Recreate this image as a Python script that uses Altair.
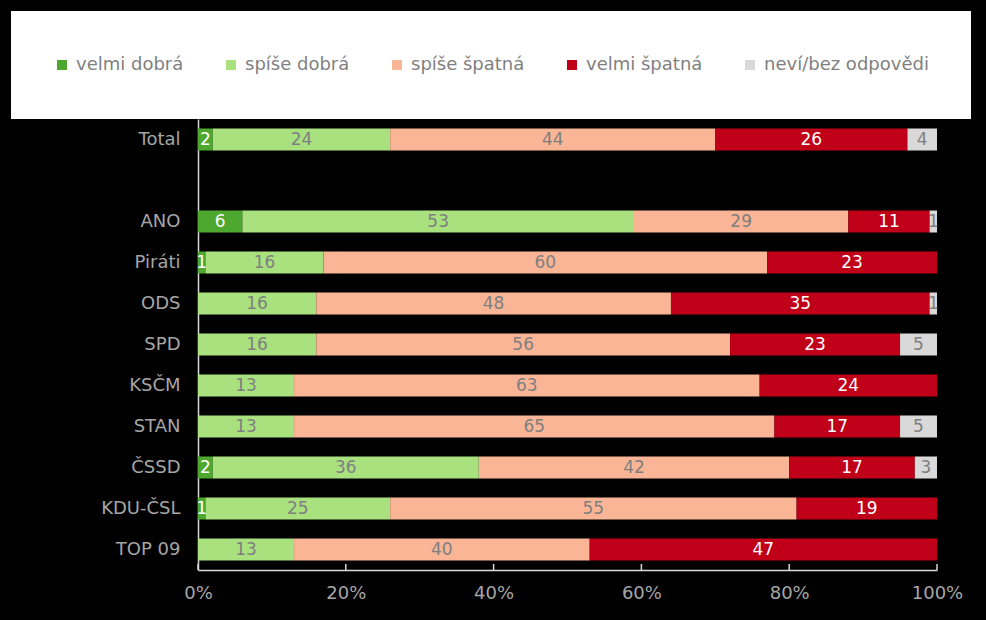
import altair as alt
import pandas as pd
from altair.utils.html import TEMPLATES

groups = ["Total", " ", "ANO", "Piráti", "ODS", "SPD", "KSČM", "STAN", "ČSSD", "KDU-ČSL", "TOP 09"]
answers = ["velmi dobrá", "spíše dobrá", "spíše špatná", "velmi špatná", "neví/bez odpovědi"]
colors = ["#4EA72E", "#A9E17F", "#F9B595", "#C00018", "#D9D9D9"]

# values per group, in order of answers (None = not shown)
velmi_dobra = [2, None, 6, 1, None, None, None, None, 2, 1, None]
spise_dobra = [24, None, 53, 16, 16, 16, 13, 13, 36, 25, 13]
spise_spatna = [44, None, 29, 60, 48, 56, 63, 65, 42, 55, 40]
velmi_spatna = [26, None, 11, 23, 35, 23, 24, 17, 17, 19, 47]
nevi = [4, None, 1, None, 1, 5, None, 5, 3, None, None]
tick_values = [0, 20, 40, 60, 80, 100]

series = [velmi_dobra, spise_dobra, spise_spatna, velmi_spatna, nevi]
rows = []
for ai, (ans, vals) in enumerate(zip(answers, series)):
    for g, v in zip(groups, vals):
        if v is not None:
            rows.append({"group": g, "answer": ans, "order": ai, "value": v})
df = pd.DataFrame(rows)

FONT = "DejaVu Sans"

base = alt.Chart(df).transform_stack(
    stack="value", groupby=["group"], as_=["x0", "x1"], sort=[alt.SortField("order")]
).transform_calculate(mid="(datum.x0 + datum.x1) / 2")

yenc = alt.Y(
    "group:N",
    scale=alt.Scale(domain=groups, paddingInner=0.463, paddingOuter=0.2315),
    axis=alt.Axis(
        title=None, labelColor="#a6a6a6", labelFontSize=18, labelFont=FONT,
        ticks=False, labelPadding=18, domainColor="#d9d9d9", domainWidth=1.5,
    ),
)

bars = base.mark_bar().encode(
    x=alt.X(
        "x0:Q",
        scale=alt.Scale(domain=[0, 100], nice=False),
        axis=alt.Axis(
            title=None, values=tick_values,
            labelExpr="datum.value + '%'", labelColor="#a6a6a6", labelFontSize=18,
            labelFont=FONT, ticks=False, grid=False, labelPadding=14,
            domainColor="#d9d9d9", domainWidth=1.5, labelFlush=False,
        ),
    ),
    x2="x1:Q",
    y=yenc,
    color=alt.Color(
        "answer:N",
        scale=alt.Scale(domain=answers, range=colors),
        legend=alt.Legend(
            title=None, orient="none", direction="horizontal",
            legendX=-187, legendY=-108, symbolType="square", symbolSize=100,
            symbolStrokeWidth=0, labelFontSize=18, labelFont=FONT,
            labelColor="#7f7f7f", columnPadding=38, padding=42, labelLimit=300,
            fillColor="white", labelOffset=5, clipHeight=24,
        ),
    ),
)

ticks = alt.Chart(pd.DataFrame({"t": tick_values})).mark_rule(
    color="#d9d9d9", strokeWidth=1.5
).encode(x=alt.X("t:Q"), y=alt.value(445), y2=alt.value(451))

labels = base.mark_text(fontSize=17, font=FONT).encode(
    x="mid:Q",
    y=alt.Y("group:N"),
    text="value:Q",
    color=alt.condition(
        "datum.answer == 'velmi dobrá' || datum.answer == 'velmi špatná'",
        alt.value("white"), alt.value("#7f7f7f"),
    ),
)

chart = alt.layer(bars, ticks, labels).properties(
    width=739, height=451,
    autosize=alt.AutoSizeParams(type="none"),
    padding={"left": 190, "top": 111, "right": 41, "bottom": 50},
    background="black",
).configure_view(stroke=None)


class BlackPage:
    def render(self, **kw):
        html = TEMPLATES["standard"].render(**kw)
        return html.replace("<head>", "<head><style>html,body{background:#000;}</style>", 1)


try:
    chart.save("out.html", embed_options={"renderer": "svg", "actions": False},
               template=BlackPage())
except Exception:
    chart.save("out.html", embed_options={"renderer": "svg", "actions": False})
